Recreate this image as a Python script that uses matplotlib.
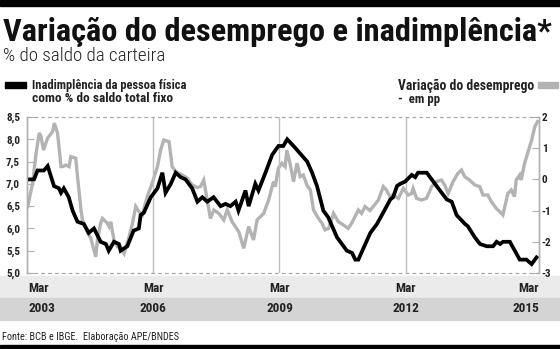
import matplotlib
matplotlib.use("Agg")
import matplotlib.pyplot as plt
from matplotlib.patches import Rectangle
from matplotlib import font_manager

# months counted from Mar 2003
black_m = [0.2, 2.0, 3.0, 4.8, 5.9, 7.7, 9.1, 9.7, 10.5, 11.9,
           13.0, 14.4, 16.2, 17.6, 19.1, 21.0, 22.5, 23.3, 24.8, 26.2,
           26.7, 28.6, 30.4, 31.9, 32.4, 33.3, 35.3, 37.2, 38.6, 39.5,
           41.0, 42.4, 43.8, 45.2, 47.1, 48.6, 50.0, 51.4, 53.2, 55.2,
           56.6, 58.0, 59.5, 60.3, 62.3, 63.2, 65.1, 66.0, 68.0, 69.9,
           71.7, 73.1, 74.2, 76.0, 79.9, 81.3, 82.7, 84.5, 85.9, 88.4,
           91.2, 92.7, 93.6, 94.5, 95.9, 97.9, 99.8, 101.2, 103.6, 104.4,
           105.5, 106.4, 107.8, 109.7, 110.7, 111.5, 114.0, 116.8, 119.7, 121.1,
           122.5, 124.9, 125.7, 127.7, 129.2, 131.1, 132.9, 133.9, 134.9, 135.7,
           137.7, 139.1, 140.5, 142.4, 143.9, 145.3]
inadimplencia = [7.1, 7.1, 7.3, 7.3, 7.4, 6.95, 6.9, 6.8, 6.9, 6.7,
                 6.4, 6.15, 6.1, 5.9, 6.0, 5.7, 5.65, 5.5, 5.7, 5.65,
                 5.5, 5.6, 5.95, 6.0, 6.3, 6.35, 6.7, 6.9, 7.25, 6.8,
                 7.0, 7.25, 7.15, 7.1, 6.9, 6.6, 6.7, 6.6, 6.7, 6.5,
                 6.55, 6.5, 6.6, 6.4, 6.85, 6.5, 7.0, 6.85, 7.25, 7.65,
                 7.85, 7.85, 8.0, 7.85, 7.5, 7.25, 6.95, 6.4, 6.25, 5.8,
                 5.5, 5.45, 5.3, 5.3, 5.55, 5.9, 6.1, 6.3, 6.65, 6.7,
                 6.95, 7.0, 7.05, 7.2, 7.15, 7.25, 7.25, 6.95, 6.65, 6.6,
                 6.3, 6.1, 6.05, 5.8, 5.65, 5.6, 5.6, 5.7, 5.65, 5.7,
                 5.7, 5.5, 5.3, 5.3, 5.2, 5.35]

grey_m = [0.2, 1.6, 2.6, 3.5, 4.0, 4.7, 5.9, 7.3, 7.8, 8.7,
          9.7, 10.2, 11.1, 12.0, 12.5, 13.9, 14.4, 15.4, 15.8, 17.3,
          18.2, 19.6, 20.1, 21.0, 21.5, 22.9, 23.4, 23.9, 24.8, 25.8,
          26.7, 27.7, 29.1, 30.1, 31.0, 31.9, 32.9, 34.3, 35.7, 37.2,
          38.1, 39.0, 40.5, 41.4, 42.4, 44.3, 45.7, 47.1, 48.5, 49.5,
          50.4, 51.4, 52.3, 53.3, 54.7, 56.1, 57.1, 58.5, 60.4, 61.8,
          63.2, 64.6, 65.6, 67.5, 68.9, 70.3, 70.8, 71.7, 72.7, 73.6,
          74.1, 75.1, 76.0, 77.0, 77.9, 78.8, 79.8, 80.8, 81.7, 83.1,
          84.1, 85.0, 86.0, 87.4, 88.8, 90.2, 91.6, 92.6, 93.5, 94.5,
          95.4, 96.4, 97.8, 99.2, 100.2, 101.6, 102.5, 103.5, 104.4, 105.9,
          107.3, 108.7, 109.7, 110.1, 111.1, 112.5, 113.9, 115.4, 116.8, 118.2,
          119.1, 120.1, 121.5, 122.9, 123.9, 124.8, 126.2, 127.7, 129.1, 130.0,
          131.4, 132.4, 133.8, 134.8, 135.7, 136.7, 137.1, 138.1, 139.0, 139.5,
          140.5, 140.9, 141.9, 142.9, 143.9, 144.8, 145.6]
desemprego = [-0.87, -0.12, 0.85, 1.49, 1.37, 0.94, 1.33, 1.53, 1.8, 1.49,
              0.41, 0.41, 0.46, 0.41, 0.73, 0.68, 0.09, -0.98, -1.3, -1.72,
              -1.89, -2.48, -1.94, -1.4, -1.25, -1.4, -1.51, -1.36, -1.94, -2.16,
              -2.16, -2.37, -1.84, -1.4, -0.87, -1.03, -1.14, -0.55, -0.12, 0.41,
              0.94, 1.26, 1.21, 0.41, 0.25, 0.14, 0.04, -0.18, -0.26, -0.23,
              -0.02, -0.66, -1.25, -0.98, -1.09, -1.3, -0.98, -1.36, -1.68, -2.21,
              -1.51, -1.94, -1.3, -1.09, -0.66, -0.07, -0.23, 0.36, 0.52, 0.41,
              0.94, 0.46, -0.07, 0.52, 0.09, 0.14, -0.18, -0.34, -0.98, -1.25,
              -1.4, -1.62, -1.57, -1.09, -1.36, -1.46, -1.57, -1.4, -1.2, -0.98,
              -1.09, -0.87, -1.0, -0.8, -0.66, -0.23, -0.34, -0.55, -0.5, -0.61,
              -0.29, -0.5, -0.45, -0.29, -0.61, -0.66, -0.61, -0.23, -0.07, -0.02,
              -0.18, -0.45, -0.07, 0.2, 0.3, 0.09, -0.02, -0.18, -0.23, -0.5,
              -0.5, -0.71, -0.93, -1.03, -1.14, -0.66, -0.45, -0.34, -0.55, -0.02,
              0.14, -0.02, 0.52, 0.89, 1.26, 1.69, 1.85]

mar_months = [0, 36, 72, 108, 144]
years = ["2003", "2006", "2009", "2012", "2015"]
left_ticks = [5.0, 5.5, 6.0, 6.5, 7.0, 7.5, 8.0, 8.5]
right_ticks = [-3, -2, -1, 0, 1, 2]

# prefer a narrow face if one is installed
names = {f.name for f in font_manager.fontManager.ttflist}
cond = 'DejaVu Sans'
for cand in ['Roboto Condensed', 'Open Sans Condensed', 'Liberation Sans Narrow']:
    if cand in names:
        cond = cand
        break
plt.rcParams['font.family'] = cond
plt.rcParams['font.stretch'] = 'condensed'

W, H = 560, 349
fig = plt.figure(figsize=(W / 100, H / 100), dpi=100)


def fx(x):
    return x / W


def fy(y):
    return 1 - y / H


def band(y0, h, color):
    fig.patches.append(Rectangle((0, fy(y0 + h)), 1, h / H, transform=fig.transFigure,
                                 color=color, zorder=-5))


band(0, 6, 'black')
band(345, 4, 'black')
band(276, 22, '#ebebeb')
band(298, 22, '#d4d4d4')

ax = fig.add_axes([fx(27), fy(273), 512 / W, 156 / H])
ax2 = ax.twinx()
ax.set_zorder(ax2.get_zorder() + 1)
ax.patch.set_visible(False)

ax2.plot(grey_m, desemprego, color='#b3b3b3', lw=2.4, solid_joinstyle='miter')
ax.plot(black_m, inadimplencia, color='black', lw=2.7, solid_joinstyle='miter')

ax.set_xlim(0, 146)
ax.set_ylim(5.0, 8.5)
ax2.set_ylim(-3, 2)

for m in mar_months[1:4]:
    ax.axvline(m, color='#bdbdbd', lw=1, zorder=0)
for v in (5.0, 8.5):
    ax.axhline(v, color='#a8a8a8', lw=0.9, ls=(0, (3, 2.5)), zorder=0, clip_on=False)

for a in (ax, ax2):
    for s in ('top', 'bottom'):
        a.spines[s].set_visible(False)
    for s in ('left', 'right'):
        a.spines[s].set_color('#b0b0b0')
        a.spines[s].set_linewidth(1)
    a.set_xticks([])

ax.set_yticks(left_ticks)
ax.set_yticklabels([f"{v:.1f}".replace('.', ',') for v in left_ticks])
ax.tick_params(axis='y', direction='in', length=5, color='#b0b0b0', pad=5,
               labelsize=8, labelcolor='#222222')
for t in ax.get_yticklabels():
    t.set_fontweight('bold')
ax2.set_yticks(right_ticks)
ax2.set_yticklabels([str(v) for v in right_ticks])
ax2.tick_params(axis='y', direction='in', length=5, color='#b0b0b0', pad=2,
                labelsize=8, labelcolor='#222222')
for t in ax2.get_yticklabels():
    t.set_fontweight('bold')

# x labels in the grey bands
for i, (m, yr) in enumerate(zip(mar_months, years)):
    ha = 'center'
    xm = m
    if i == 0:
        ha, xm = 'left', 0.3
    elif i == len(mar_months) - 1:
        ha, xm = 'right', 146
    xd = ax.transData.transform((xm, 0))[0] / W
    fig.text(xd, fy(288), "Mar", ha=ha, va='center', fontsize=9.5,
             fontweight='bold', color='#222222')
    fig.text(xd, fy(309), yr, ha=ha, va='center', fontsize=9.5,
             fontweight='bold', color='#222222')

title = fig.text(fx(3), fy(41), "Variação do desemprego e inadimplência*", fontsize=20,
                 fontweight='heavy', va='baseline', color='#111111')
sub = fig.text(fx(3), fy(61), "% do saldo da carteira", fontsize=12, va='baseline',
               fontweight='light', color='#222222')
fonte = fig.text(fx(2), fy(340), "Fonte: BCB e IBGE.  Elaboração APE/BNDES", fontsize=8,
                 va='baseline', color='#222222')

leg_txt = [
    fig.text(fx(32), fy(86), "Inadimplência da pessoa física", fontsize=9,
             fontweight='bold', va='center', color='#222222'),
    fig.text(fx(32), fy(99), "como % do saldo total fixo", fontsize=9,
             fontweight='bold', va='center', color='#222222'),
    fig.text(fx(398), fy(86), "Variação do desemprego", fontsize=9,
             fontweight='bold', va='center', color='#222222'),
    fig.text(fx(398), fy(99), "-  em pp", fontsize=9,
             fontweight='bold', va='center', color='#222222'),
]
fig.patches.append(Rectangle((fx(5), fy(88)), 21 / W, 6 / H, transform=fig.transFigure,
                             color='black'))
fig.patches.append(Rectangle((fx(538), fy(88)), 20 / W, 6 / H, transform=fig.transFigure,
                             color='#b3b3b3'))

# fit the widths measured on the reference
renderer = fig.canvas.get_renderer()
targets = [(title, 547), (sub, 162), (fonte, 178),
           (leg_txt[0], 155), (leg_txt[1], 140), (leg_txt[2], 135), (leg_txt[3], 42)]
for t, width in targets:
    w = t.get_window_extent(renderer).width
    t.set_fontsize(t.get_fontsize() * width / w)

fig.savefig("out.png", dpi=100)
